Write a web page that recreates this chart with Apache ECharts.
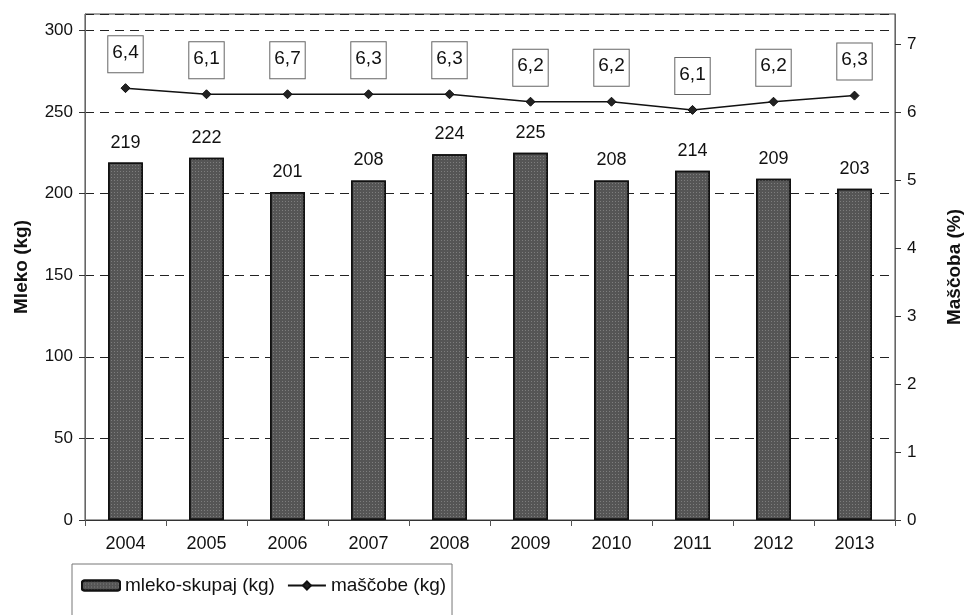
<!DOCTYPE html>
<html>
<head>
<meta charset="utf-8">
<script src="https://cdn.jsdelivr.net/npm/echarts@6/dist/echarts.min.js"></script>
<style>html,body{margin:0;padding:0;background:#fff;}#c{width:972px;height:615px;}</style>
</head>
<body>
<div id="c"></div>
<script>
const years = ['2004','2005','2006','2007','2008','2009','2010','2011','2012','2013'];
const milk = [219, 222, 201, 208, 224, 225, 208, 214, 209, 203];
const fat = [6.35, 6.26, 6.26, 6.26, 6.26, 6.15, 6.15, 6.03, 6.15, 6.24];
const fatLabels = ['6,4', '6,1', '6,7', '6,3', '6,3', '6,2', '6,2', '6,1', '6,2', '6,3'];
const leftTicks = [0, 50, 100, 150, 200, 250, 300];
const rightTicks = [0, 1, 2, 3, 4, 5, 6, 7];

const FONT = 'Liberation Sans, Arial, sans-serif';
const chart = echarts.init(document.getElementById('c'), null, {renderer: 'canvas'});
chart.setOption({
  animation: false,
  backgroundColor: '#fff',
  textStyle: {fontFamily: FONT, color: '#111'},
  grid: {left: 85, right: 69, top: 14, bottom: 95, show: true, borderColor: '#444', borderWidth: 1},
  legend: {
    left: 72, top: 564,
    padding: [12, 6, 40, 9],
    borderColor: '#777', borderWidth: 1, borderRadius: 0,
    backgroundColor: '#fff',
    itemWidth: 38, itemHeight: 10, itemGap: 12,
    textStyle: {fontSize: 19, fontFamily: FONT, color: '#111'},
    data: ['mleko-skupaj (kg)', 'maščobe (kg)']
  },
  xAxis: {
    type: 'category', data: years, boundaryGap: true,
    axisLine: {lineStyle: {color: '#333', width: 1}},
    axisTick: {show: true, length: 6, lineStyle: {color: '#555'}},
    axisLabel: {fontSize: 18, color: '#111', margin: 15, fontFamily: FONT}
  },
  yAxis: [{
    type: 'value', min: 0, max: 310, interval: 50,
    name: 'Mleko (kg)', nameLocation: 'middle', nameGap: 54,
    nameTextStyle: {fontSize: 19, fontWeight: 'bold', color: '#111', fontFamily: FONT},
    axisLine: {show: true, lineStyle: {color: '#666'}},
    axisTick: {show: true, length: 6, lineStyle: {color: '#333'}},
    axisLabel: {fontSize: 17, color: '#111', margin: 12, showMaxLabel: false, fontFamily: FONT},
    splitLine: {show: true, lineStyle: {type: [9, 6], color: '#222', width: 1}}
  }, {
    type: 'value', min: 0, max: 7.44, interval: 1, position: 'right',
    name: 'Maščoba (%)', nameLocation: 'middle', nameGap: 50, nameRotate: 90,
    nameTextStyle: {fontSize: 19, fontWeight: 'bold', color: '#111', fontFamily: FONT},
    axisLine: {show: true, lineStyle: {color: '#666'}},
    axisTick: {show: true, length: 6, lineStyle: {color: '#333'}},
    axisLabel: {fontSize: 17, color: '#111', margin: 12, showMaxLabel: false, fontFamily: FONT},
    splitLine: {show: false}
  }],
  series: [{
    name: 'mleko-skupaj (kg)', type: 'bar', data: milk, yAxisIndex: 0,
    barWidth: '43%',
    itemStyle: {
      color: '#555555', borderColor: '#111', borderWidth: 1.5,
      decal: {symbol: 'rect', symbolSize: 1, color: 'rgba(200,200,200,0.35)', dashArrayX: [1, 2], dashArrayY: [1, 2], rotation: 0}
    },
    label: {show: true, position: 'top', distance: 11, fontSize: 18, color: '#111', fontFamily: FONT}
  }, {
    name: 'maščobe (kg)', type: 'line', data: fat, yAxisIndex: 1,
    symbol: 'diamond', symbolSize: 9,
    lineStyle: {color: '#111', width: 1.5},
    itemStyle: {color: '#222', borderColor: '#111', borderWidth: 1},
    label: {
      show: true, position: 'top', distance: 11,
      formatter: p => fatLabels[p.dataIndex],
      fontSize: 19, color: '#111', fontFamily: FONT,
      backgroundColor: '#fff', borderColor: '#666', borderWidth: 1,
      padding: [7, 4, 10, 4]
    },
    z: 5
  }]
});
</script>
</body>
</html>
